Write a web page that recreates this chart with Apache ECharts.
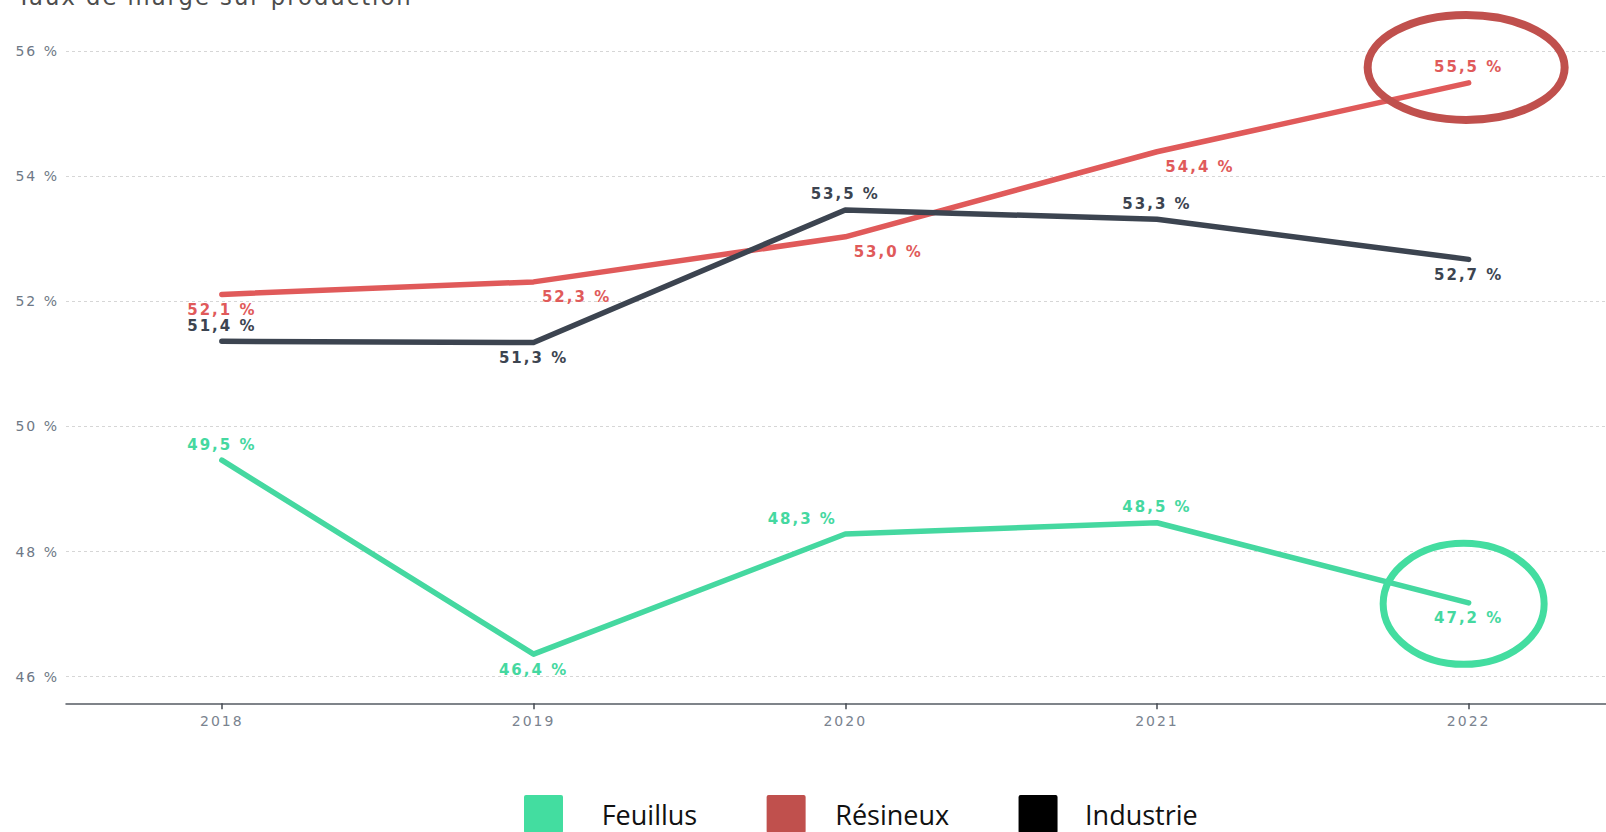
<!DOCTYPE html>
<html>
<head>
<meta charset="utf-8">
<script src="https://cdn.jsdelivr.net/npm/echarts@6/dist/echarts.min.js"></script>
<style>
  html, body { margin: 0; padding: 0; background: #fff; }
  #chart { width: 1606px; height: 832px; }
  #chart svg text { letter-spacing: 2px; }
  #chart svg text[style*="Open Sans"] { letter-spacing: 0; }
</style>
</head>
<body>
<div id="chart"></div>
<script>
// ---- data (labels show one decimal) ----
const years = ['2018', '2019', '2020', '2021', '2022'];
const feuillus = [49.46, 46.36, 48.28, 48.46, 47.18];
const resineux = [52.11, 52.31, 53.03, 54.39, 55.49];
const industrie = [51.36, 51.34, 53.46, 53.31, 52.67];
const yTicks = { min: 46, max: 56, interval: 2 };
const titleText = 'Taux de marge sur production';
const legendNames = ['Feuillus', 'Résineux', 'Industrie'];

// ---- styling (label placement per point) ----
const placeFeuillus = [['top', 0], ['bottom', 0], ['top', -43], ['top', 0], ['bottom', 0]];
const placeResineux = [['bottom', 0], ['bottom', 43], ['bottom', 43], ['bottom', 43], ['top', 0]];
const placeIndustrie = [['top', 0], ['bottom', 0], ['top', 0], ['top', 0], ['bottom', 0]];

const fmt = v => v.toFixed(1).replace('.', ',') + ' %';

function makeSeries(name, values, color, placement) {
  return {
    name: name,
    type: 'line',
    data: values.map((v, i) => ({
      value: v,
      label: { position: placement[i][0], offset: [placement[i][1], 0] }
    })),
    symbol: 'circle',
    symbolSize: 2,
    showSymbol: true,
    itemStyle: { color: color },
    lineStyle: { color: color, width: 5.5, cap: 'round', join: 'round' },
    label: {
      show: true,
      distance: 7,
      color: color,
      fontFamily: 'DejaVu Sans',
      fontWeight: 'bold',
      fontSize: 15,
      formatter: p => fmt(p.value)
    },
    emphasis: { disabled: true },
    animation: false
  };
}

const chart = echarts.init(document.getElementById('chart'), null, { renderer: 'svg' });

const legendIcon = 'path://M2,0 H37 Q39,0 39,2 V36 Q39,38 37,38 H2 Q0,38 0,36 V2 Q0,0 2,0 Z';

const option = {
  backgroundColor: '#ffffff',
  animation: false,
  title: {
    text: titleText,
    left: 17,
    top: -14.5,
    padding: 0,
    textStyle: { fontFamily: 'DejaVu Sans', fontSize: 22.7, fontWeight: 'normal', color: '#4d4d4d' }
  },
  legend: {
    left: 524,
    top: 795,
    padding: 0,
    itemWidth: 39,
    itemHeight: 38,
    itemGap: 69.4,
    icon: legendIcon,
    selectedMode: false,
    textStyle: { fontFamily: 'Open Sans', fontSize: 27, color: '#111111' },
    data: [
      { name: legendNames[0], itemStyle: { color: '#43dda0' }, textStyle: { padding: [0, 4.6, 0, 33.7] } },
      { name: legendNames[1], itemStyle: { color: '#c0504d' }, textStyle: { padding: [0, 0, 0, 24.6] } },
      { name: legendNames[2], itemStyle: { color: '#000000' }, textStyle: { padding: [0, 0, 0, 22.5] } }
    ]
  },
  grid: { left: 66, width: 1558.5, top: 51, bottom: 155.3, containLabel: false, outerBoundsMode: 'none' },
  xAxis: {
    type: 'category',
    data: years,
    boundaryGap: true,
    offset: 26.6,
    axisLine: { show: true, lineStyle: { color: '#555b63', width: 1.5 } },
    axisTick: { show: true, alignWithLabel: true, length: 6, lineStyle: { color: '#444a52', width: 1.5 } },
    axisLabel: { margin: 11, fontFamily: 'DejaVu Sans', fontSize: 14, color: '#7a838f' },
    splitLine: { show: false }
  },
  yAxis: {
    type: 'value',
    min: yTicks.min,
    max: yTicks.max,
    interval: yTicks.interval,
    axisLine: { show: false },
    axisTick: { show: false },
    axisLabel: { margin: 7, fontFamily: 'DejaVu Sans', fontSize: 14, color: '#6e7886', formatter: '{value} %' },
    splitLine: { show: true, lineStyle: { color: '#d6d6d6', width: 1, type: [3, 3] } }
  },
  series: [
    makeSeries(legendNames[0], feuillus, '#45d8a0', placeFeuillus),
    makeSeries(legendNames[1], resineux, '#e05a5a', placeResineux),
    makeSeries(legendNames[2], industrie, '#3c4450', placeIndustrie)
  ]
};

chart.setOption(option);

// annotation ellipses positioned from the data through the axes
const last = years.length - 1;
const pRes = chart.convertToPixel({ gridIndex: 0 }, [last, resineux[last]]);
const pFeu = chart.convertToPixel({ gridIndex: 0 }, [last, feuillus[last]]);
chart.setOption({
  graphic: [
    {
      type: 'ellipse', z: 100, silent: true,
      shape: { cx: pRes[0] - 2.5, cy: pRes[1] - 15.5, rx: 98.5, ry: 52.5 },
      style: { fill: 'none', stroke: '#c0504d', lineWidth: 8 }
    },
    {
      type: 'ellipse', z: 100, silent: true,
      shape: { cx: pFeu[0] - 5, cy: pFeu[1] + 1, rx: 80.5, ry: 60.5 },
      style: { fill: 'none', stroke: '#43dda0', lineWidth: 7 }
    }
  ]
});
</script>
</body>
</html>
